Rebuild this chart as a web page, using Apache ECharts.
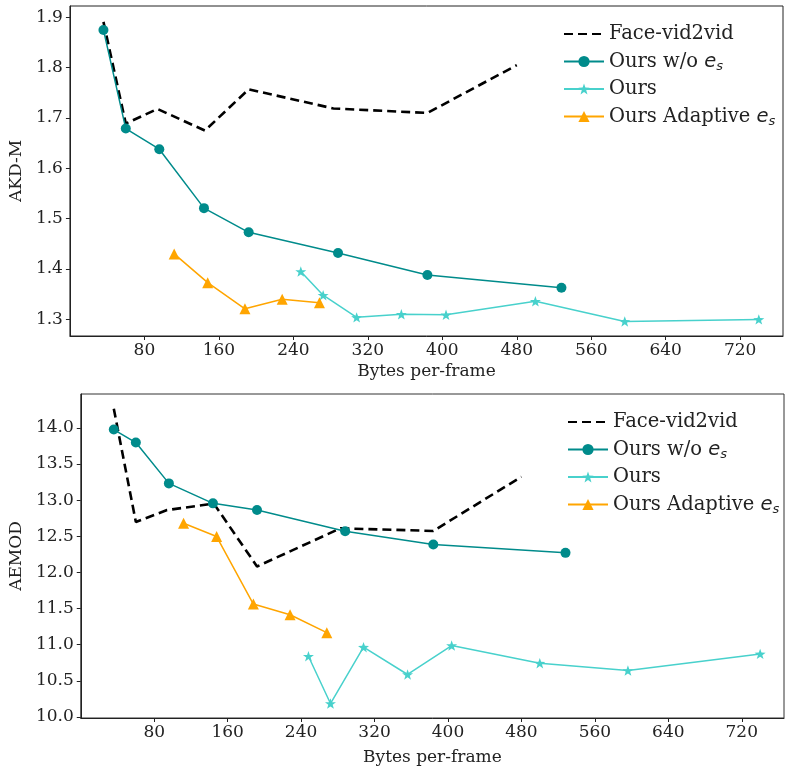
<!DOCTYPE html>
<html><head><meta charset="utf-8">
<script src="https://cdn.jsdelivr.net/npm/echarts@6/dist/echarts.min.js"></script>
<style>html,body{margin:0;padding:0;background:#fff}#c{width:785px;height:767px}</style>
</head><body><div id="c"></div>
<script>
// ---- data ----
const faceX = [36, 60, 94, 145, 192, 283, 384, 480];
const woX = [36, 60, 96, 144, 192, 288, 384, 528];
const oursX = [248, 272, 308, 356, 404, 500, 596, 740];
const adaptX = [112, 148, 188, 228, 268];

const akdFace = [1.891, 1.689, 1.718, 1.675, 1.757, 1.719, 1.710, 1.805];
const akdWo = [1.875, 1.679, 1.638, 1.521, 1.473, 1.432, 1.388, 1.363];
const akdOurs = [1.395, 1.348, 1.304, 1.310, 1.309, 1.336, 1.296, 1.300];
const akdAdapt = [1.430, 1.373, 1.321, 1.340, 1.333];

const aemFace = [14.266, 12.698, 12.863, 12.952, 12.083, 12.611, 12.574, 13.324];
const aemWo = [13.977, 13.797, 13.232, 12.956, 12.864, 12.570, 12.386, 12.271];
const aemOurs = [10.841, 10.186, 10.966, 10.588, 10.988, 10.745, 10.643, 10.873];
const aemAdapt = [12.680, 12.497, 11.563, 11.415, 11.167];

const xTicks = [80, 160, 240, 320, 400, 480, 560, 640, 720];
const akdTicks = [1.3, 1.4, 1.5, 1.6, 1.7, 1.8, 1.9];
const aemTicks = [10.0, 10.5, 11.0, 11.5, 12.0, 12.5, 13.0, 13.5, 14.0];

const names = ['Face-vid2vid', 'Ours w/o e_s', 'Ours', 'Ours Adaptive e_s'];
// ---- end data ----

const zip = (xs, ys) => xs.map((x, i) => [x, ys[i]]);
const serif = 'DejaVu Serif';
const STAR = 'path://M0,-10 L2.35,-3.24 L9.51,-3.09 L3.8,1.24 L5.88,8.09 L0,4 L-5.88,8.09 L-3.8,1.24 L-9.51,-3.09 L-2.35,-3.24 Z';
const cFace = '#000000', cWo = '#008B8B', cOurs = '#48D1CC', cAdapt = '#FFA500';
const FS = 17;

function xAxis(gi) {
  return {
    type: 'value', gridIndex: gi, min: 0, max: 766,
    name: 'Bytes per-frame', nameLocation: 'middle', nameGap: gi === 0 ? 27 : 31,
    nameTextStyle: { fontFamily: serif, fontSize: FS, color: '#222' },
    axisLine: { show: true, lineStyle: { color: '#222', width: 1 } },
    axisTick: { show: true, length: 4, customValues: xTicks, lineStyle: { color: '#222' } },
    axisLabel: { customValues: xTicks, fontFamily: serif, fontSize: FS, color: '#222', margin: 6 },
    splitLine: { show: false }
  };
}
function yAxis(gi, min, max, ticks, name, gap) {
  return {
    type: 'value', gridIndex: gi, min: min, max: max,
    name: name, nameLocation: 'middle', nameGap: gap, nameRotate: 90,
    nameTextStyle: { fontFamily: serif, fontSize: FS, color: '#222' },
    axisLine: { show: true, lineStyle: { color: '#222', width: 1 } },
    axisTick: { show: true, length: 4, customValues: ticks, lineStyle: { color: '#222' } },
    axisLabel: { customValues: ticks, fontFamily: serif, fontSize: FS, color: '#222', margin: 7,
      formatter: v => v.toFixed(1) },
    splitLine: { show: false }
  };
}
function series(gi, xs, ys, name, color, sym, size, dashed) {
  return {
    type: 'line', name: name, xAxisIndex: gi, yAxisIndex: gi,
    data: zip(xs, ys),
    symbol: sym, symbolSize: size, symbolKeepAspect: true, showSymbol: sym !== 'none',
    lineStyle: dashed ? { color: color, width: 2.6, type: [9, 5] } : { color: color, width: 1.5 },
    itemStyle: { color: color, borderWidth: 0 },
    animation: false, z: 3
  };
}
const LFS = 19.5;
const rich = {
  t: { fontFamily: serif, fontSize: LFS, color: '#222', lineHeight: 22 },
  e: { fontFamily: 'DejaVu Sans', fontStyle: 'italic', fontSize: LFS, color: '#222', lineHeight: 22 },
  s: { fontFamily: 'DejaVu Sans', fontStyle: 'italic', fontSize: 13, color: '#222', lineHeight: 13, padding: [10, 0, 0, 0] }
};
function fmt(n) {
  if (n.endsWith(' e_s')) return '{t|' + n.slice(0, -4) + ' }{e|e}{s|s}';
  return '{t|' + n + '}';
}
function legend(left, top) {
  return {
    data: [
      { name: names[0], itemStyle: { color: 'rgba(0,0,0,0)', borderWidth: 0 } },
      names[1], names[2], names[3]
    ],
    orient: 'vertical', left: left, top: top,
    itemWidth: 40, itemHeight: 14, itemGap: 6,
    formatter: fmt, textStyle: { rich: rich, fontFamily: serif, fontSize: LFS, color: '#222' },
    selectedMode: false
  };
}
const chart = echarts.init(document.getElementById('c'), null, { renderer: 'canvas' });
chart.setOption({
  animation: false,
  grid: [
    { left: 67, top: 6, width: 716, height: 330, show: true, borderColor: '#222', borderWidth: 1, backgroundColor: 'transparent' },
    { left: 77, top: 394, width: 707, height: 325, show: true, borderColor: '#333', borderWidth: 1, backgroundColor: 'transparent' }
  ],
  legend: [legend(558, 19), legend(562, 407)],
  xAxis: [xAxis(0), xAxis(1)],
  yAxis: [
    yAxis(0, 1.267, 1.9225, akdTicks, 'AKD-M', 44),
    yAxis(1, 9.986, 14.469, aemTicks, 'AEMOD', 52)
  ],
  series: [
    series(0, faceX, akdFace, names[0], cFace, 'none', 0, true),
    series(0, woX, akdWo, names[1], cWo, 'circle', 10, false),
    series(0, oursX, akdOurs, names[2], cOurs, STAR, 11, false),
    series(0, adaptX, akdAdapt, names[3], cAdapt, 'triangle', 11, false),
    series(1, faceX, aemFace, names[0], cFace, 'none', 0, true),
    series(1, woX, aemWo, names[1], cWo, 'circle', 10, false),
    series(1, oursX, aemOurs, names[2], cOurs, STAR, 11, false),
    series(1, adaptX, aemAdapt, names[3], cAdapt, 'triangle', 11, false)
  ]
});
</script></body></html>
